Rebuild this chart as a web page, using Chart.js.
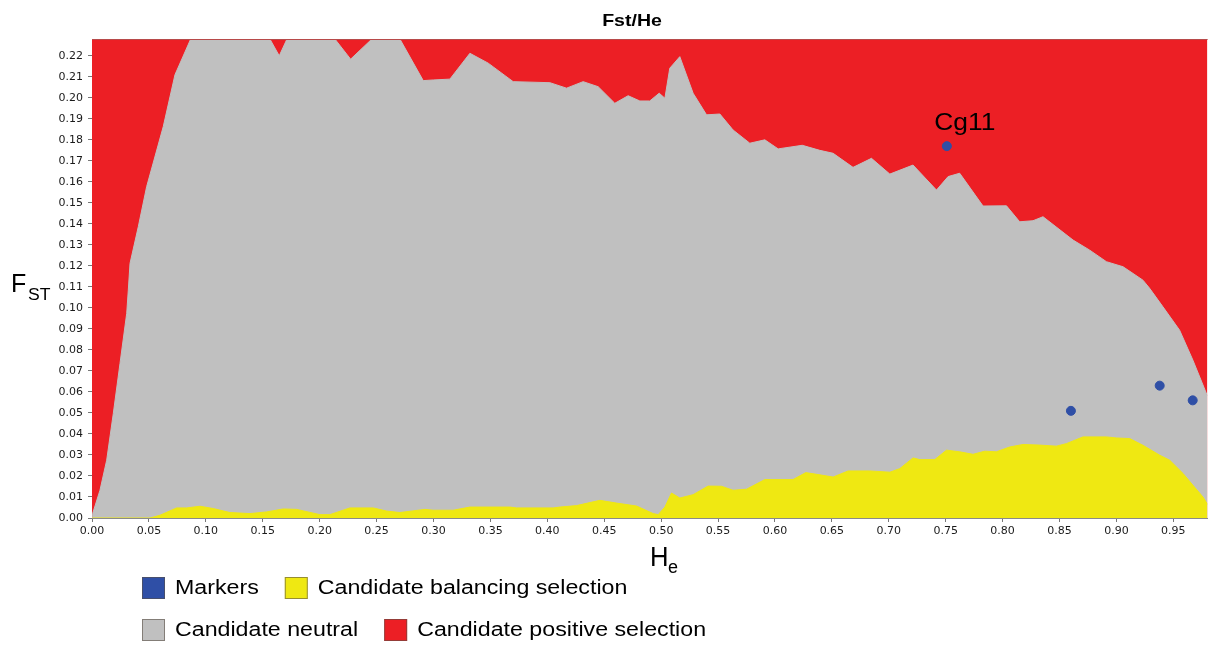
<!DOCTYPE html>
<html>
<head>
<meta charset="utf-8">
<title>Fst/He</title>
<script src="https://cdn.jsdelivr.net/npm/chart.js@4.4.1/dist/chart.umd.min.js"></script>
<style>
  body { margin: 0; background: #fff; }
  canvas { display: block; }
</style>
</head>
<body>
<canvas id="fstChart" width="1213" height="648"></canvas>
<script>
// ---------------------------
// DATA
// ---------------------------
const chartTitle = "Fst/He";

// upper edge of the "neutral" (gray) zone
const neutralX = [0, 0.0006, 0.007, 0.0129, 0.0187, 0.0246, 0.0305, 0.0319, 0.0334, 0.0407, 0.048, 0.0626, 0.0729, 0.0867,
  0.1563, 0.1645, 0.1713, 0.2134, 0.2272, 0.2459, 0.2705, 0.291, 0.2998, 0.3144, 0.332, 0.3481, 0.370, 0.4023, 0.4169,
  0.4315, 0.4447, 0.4593, 0.471, 0.4813, 0.490, 0.4983, 0.5033, 0.5076, 0.5164, 0.5281, 0.5399, 0.5516, 0.5632, 0.5779,
  0.5911, 0.6028, 0.624, 0.6394, 0.6511, 0.6686, 0.6848, 0.7009, 0.7213, 0.7419, 0.7521, 0.7623, 0.7828, 0.8034, 0.815,
  0.8267, 0.8355, 0.8619, 0.8765, 0.8912, 0.9058, 0.9146, 0.9233, 0.9292, 0.9409, 0.9555, 0.9672, 0.98];
const neutralY = [0, 0.0022, 0.0132, 0.0275, 0.0497, 0.0736, 0.0974, 0.1085, 0.1212, 0.1387, 0.1577, 0.1863, 0.211, 0.228,
  0.228, 0.220, 0.228, 0.228, 0.2184, 0.228, 0.228, 0.2082, 0.2085, 0.2089, 0.2212, 0.2165, 0.2077, 0.2072, 0.2046,
  0.2077, 0.2053, 0.1974, 0.201, 0.1985, 0.1985, 0.2022, 0.1998, 0.2141, 0.2196, 0.2022, 0.1919, 0.1923, 0.1847, 0.1784,
  0.180, 0.1757, 0.1774, 0.1750, 0.1736, 0.1669, 0.1712, 0.1637, 0.168, 0.1561, 0.1625, 0.1641, 0.1485, 0.1486, 0.141,
  0.1415, 0.1434, 0.1323, 0.1275, 0.122, 0.1196, 0.1164, 0.1132, 0.1093, 0.1005, 0.0894, 0.0751, 0.058];

// upper edge of the "balancing selection" (yellow) zone
const balancingX = [0, 0.0509, 0.0597, 0.0744, 0.0832, 0.0949, 0.1065, 0.1212, 0.1388, 0.1534, 0.168, 0.1798, 0.2002, 0.209,
  0.2266, 0.2471, 0.2588, 0.2705, 0.2925, 0.2998, 0.3173, 0.332, 0.3671, 0.373, 0.4052, 0.411, 0.4257, 0.4462, 0.4608,
  0.4784, 0.493, 0.4974, 0.5033, 0.5091, 0.5164, 0.5281, 0.5413, 0.553, 0.5632, 0.575, 0.5911, 0.6159, 0.6271, 0.6365,
  0.6511, 0.6643, 0.6833, 0.7009, 0.7096, 0.7213, 0.7272, 0.7404, 0.7507, 0.7623, 0.774, 0.7843, 0.7945, 0.8062, 0.8179,
  0.8326, 0.8472, 0.856, 0.8706, 0.8912, 0.9, 0.9117, 0.9233, 0.938, 0.9468, 0.9585, 0.9672, 0.976, 0.98];
const balancingY = [0, 0, 0.0013, 0.0048, 0.0048, 0.0056, 0.0045, 0.0026, 0.0021, 0.0029, 0.0043, 0.0041, 0.0016, 0.0016,
  0.0048, 0.0048, 0.0033, 0.0026, 0.0041, 0.0037, 0.0037, 0.0052, 0.0052, 0.0048, 0.0048, 0.0052, 0.0059, 0.0084, 0.0071,
  0.0057, 0.0021, 0.0016, 0.0052, 0.0119, 0.0095, 0.0111, 0.0152, 0.0151, 0.0132, 0.0137, 0.0183, 0.0183, 0.0216, 0.0208,
  0.0195, 0.0224, 0.0224, 0.0218, 0.0235, 0.0286, 0.0278, 0.0278, 0.0323, 0.0315, 0.0303, 0.0318, 0.0315, 0.0338, 0.035,
  0.0347, 0.0342, 0.0354, 0.0386, 0.0386, 0.0381, 0.0378, 0.0346, 0.0299, 0.0275, 0.0212, 0.0156, 0.01, 0.0065];

// "positive selection" (red) fills everything above the gray zone
const positiveX = [0, 0.98];
const positiveY = [0.228, 0.228];

// markers
const markerX = [0.751, 0.860, 0.938, 0.967];
const markerY = [0.177, 0.051, 0.063, 0.056];
const markerLabels = ["Cg11", "", "", ""];

// axes
const xMin = 0, xMax = 0.98, xStep = 0.05;
const yMin = 0, yMax = 0.228, yStep = 0.01;

const legendNames = ["Markers", "Candidate balancing selection", "Candidate neutral", "Candidate positive selection"];

const colors = {
  marker: "#2f4fa6",
  balancing: "#efe812",
  neutral: "#c0c0c0",
  positive: "#ec1f25"
};

function toPoints(xs, ys) {
  return xs.map((x, i) => ({ x: x, y: ys[i] }));
}

// ---------------------------
// TEXT HELPER (stretched like the original)
// ---------------------------
function stretchText(ctx, text, x, y, font, sx, align) {
  ctx.save();
  ctx.font = font;
  ctx.textBaseline = "alphabetic";
  ctx.textAlign = "left";
  let w = ctx.measureText(text).width * sx;
  let left = align === "center" ? x - w / 2 : x;
  ctx.translate(left, y);
  ctx.scale(sx, 1);
  ctx.fillText(text, 0, 0);
  ctx.restore();
  return w;
}

// ---------------------------
// EXTRA DRAWING: title, axis names, marker label, legend
// ---------------------------
const decorPlugin = {
  id: "decor",
  afterDraw(chart) {
    const ctx = chart.ctx;
    const area = chart.chartArea;
    const xs = chart.scales.x, ys = chart.scales.y;
    ctx.save();
    ctx.fillStyle = "#000";

    // top edge of plot
    ctx.strokeStyle = "#b84a4a";
    ctx.lineWidth = 1;
    ctx.beginPath();
    ctx.moveTo(area.left, area.top + 0.5);
    ctx.lineTo(area.right, area.top + 0.5);
    ctx.stroke();

    // title
    stretchText(ctx, chartTitle, 632, 26, "bold 17px 'Liberation Sans', Arial, sans-serif", 1.15, "center");

    // y axis name F_ST
    stretchText(ctx, "F", 11, 292, "25px 'Liberation Sans', Arial, sans-serif", 1.0, "left");
    stretchText(ctx, "ST", 28, 300, "16px 'Liberation Sans', Arial, sans-serif", 1.1, "left");

    // x axis name H_e
    stretchText(ctx, "H", 650, 566, "27px 'Liberation Sans', Arial, sans-serif", 0.95, "left");
    stretchText(ctx, "e", 668, 573, "18px 'Liberation Sans', Arial, sans-serif", 1.0, "left");

    // marker labels
    markerLabels.forEach((lab, i) => {
      if (!lab) return;
      let px = xs.getPixelForValue(markerX[i]);
      let py = ys.getPixelForValue(markerY[i]);
      stretchText(ctx, lab, px + 18, py - 16, "24px 'Liberation Sans', Arial, sans-serif", 1.1, "center");
    });

    // legend, two rows
    const legendColors = [colors.marker, colors.balancing, colors.neutral, colors.positive];
    const rows = [[0, 1], [2, 3]];
    const rowBase = [594, 636];
    const font = "20px 'Liberation Sans', Arial, sans-serif";
    rows.forEach((row, r) => {
      let x = 142;
      row.forEach(idx => {
        ctx.fillStyle = legendColors[idx];
        ctx.fillRect(x, rowBase[r] - 17, 23, 22);
        ctx.strokeStyle = "rgba(90,80,70,0.6)";
        ctx.strokeRect(x + 0.5, rowBase[r] - 16.5, 22, 21);
        ctx.fillStyle = "#000";
        let w = stretchText(ctx, legendNames[idx], x + 33, rowBase[r], font, 1.16, "left");
        x = x + 33 + w + 26;
      });
    });
    ctx.restore();
  }
};

// ---------------------------
// CHART
// ---------------------------
const tickFont = { family: "'DejaVu Sans', Verdana, sans-serif", size: 11 };

new Chart(document.getElementById("fstChart"), {
  type: "line",
  data: {
    datasets: [
      {
        label: "Markers",
        data: toPoints(markerX, markerY),
        showLine: false,
        pointRadius: 4.5,
        pointBackgroundColor: colors.marker,
        pointBorderColor: colors.marker,
        order: 0
      },
      {
        label: "Candidate balancing selection",
        data: toPoints(balancingX, balancingY),
        fill: "origin",
        backgroundColor: colors.balancing,
        borderColor: colors.balancing,
        borderWidth: 1,
        pointRadius: 0,
        tension: 0,
        order: 1
      },
      {
        label: "Candidate neutral",
        data: toPoints(neutralX, neutralY),
        fill: "origin",
        backgroundColor: colors.neutral,
        borderColor: colors.neutral,
        borderWidth: 1,
        pointRadius: 0,
        tension: 0,
        order: 2
      },
      {
        label: "Candidate positive selection",
        data: toPoints(positiveX, positiveY),
        fill: "origin",
        backgroundColor: colors.positive,
        borderColor: colors.positive,
        borderWidth: 1,
        pointRadius: 0,
        tension: 0,
        order: 3
      }
    ]
  },
  options: {
    responsive: false,
    animation: false,
    devicePixelRatio: 1,
    layout: { padding: { left: 0, right: 5, top: 39, bottom: 100 } },
    plugins: {
      legend: { display: false },
      tooltip: { enabled: false },
      title: { display: false }
    },
    scales: {
      x: {
        type: "linear",
        min: xMin,
        max: xMax,
        afterFit: s => { s.height = 30; },
        border: { display: true, color: "#8a8a8a", width: 1 },
        grid: { drawOnChartArea: false, tickLength: 4, tickColor: "#777" },
        ticks: {
          stepSize: xStep,
          includeBounds: false,
          autoSkip: false,
          maxRotation: 0,
          padding: 3,
          color: "#1a1a1a",
          font: tickFont,
          callback: v => v.toFixed(2)
        }
      },
      y: {
        min: yMin,
        max: yMax,
        afterFit: s => { s.width = 92; },
        border: { display: true, color: "#8a8a8a", width: 1 },
        grid: { drawOnChartArea: false, tickLength: 4, tickColor: "#777" },
        ticks: {
          stepSize: yStep,
          includeBounds: false,
          autoSkip: false,
          padding: 5,
          color: "#1a1a1a",
          font: tickFont,
          callback: v => v.toFixed(2)
        }
      }
    }
  },
  plugins: [decorPlugin]
});
</script>
</body>
</html>
